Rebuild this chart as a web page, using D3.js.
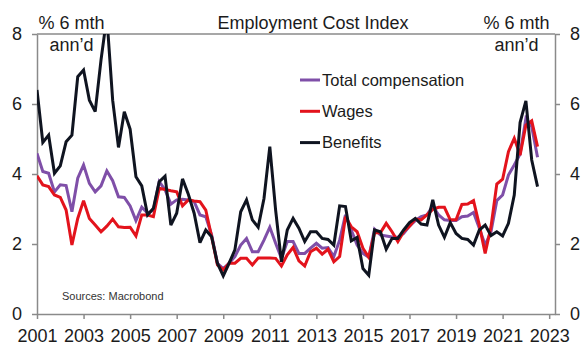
<!DOCTYPE html>
<html>
<head>
<meta charset="utf-8">
<script src="https://cdn.jsdelivr.net/npm/d3@7"></script>
<style>
  html, body { margin: 0; padding: 0; background: #fff; }
  svg { display: block; font-family: "Liberation Sans", Arial, sans-serif; }
</style>
</head>
<body>
<svg id="chart" width="582" height="345"></svg>
<script>
// Quarterly observations, 2001 Q1 to 2022 Q3 (% 6 mth annualised)
const firstYear = 2001;
const totalCompensation = [
  4.59, 4.07, 4.02, 3.49,  3.69, 3.67, 2.92, 3.88,  4.26, 3.73, 3.49, 3.66,
  4.09, 3.81, 3.35, 3.33,  3.09, 2.67, 3.05, 2.88,  2.97, 3.78, 3.55, 3.14,
  3.26, 3.28, 3.26, 3.21,  2.83, 2.78, 2.26, 1.45,  1.30, 1.45, 1.64, 1.97,
  2.16, 1.78, 1.78, 2.11,  2.48, 2.02, 1.59, 2.07,  2.07, 1.73, 1.73, 1.88,
  2.02, 1.88, 1.90, 1.64,  2.11, 2.83, 2.40, 1.97,  1.73, 1.62, 2.42, 2.26,
  2.23, 2.20, 2.19, 2.30,  2.51, 2.67, 2.78, 2.83,  3.09, 2.83, 2.69, 2.67,
  2.67, 2.78, 2.80, 2.90,  2.45, 1.97, 2.35, 3.24,  3.40, 3.97, 4.26, 4.57,
  5.59, 5.35, 4.48
];
const wages = [
  3.95, 3.69, 3.64, 3.40,  3.33, 2.97, 1.97, 2.73,  3.24, 2.73, 2.54, 2.35,
  2.51, 2.71, 2.49, 2.47,  2.48, 2.23, 2.83, 2.83,  2.78, 3.59, 3.56, 3.52,
  3.49, 3.09, 3.26, 3.23,  3.21, 2.97, 2.21, 1.40,  1.26, 1.45, 1.45, 1.59,
  1.59, 1.40, 1.60, 1.60,  1.60, 1.59, 1.37, 1.69,  1.90, 1.52, 1.37, 1.78,
  1.88, 1.71, 1.85, 1.49,  1.64, 2.78, 2.49, 2.35,  1.88, 1.62, 2.32, 2.32,
  2.59, 2.35, 2.07, 2.35,  2.51, 2.71, 2.69, 2.83,  2.99, 3.05, 3.05, 2.69,
  2.69, 3.13, 3.14, 3.24,  2.54, 1.73, 2.49, 3.71,  3.85, 4.64, 5.02, 4.54,
  5.40, 5.52, 4.78
];
const benefits = [
  6.40, 4.90, 5.11, 4.02,  4.23, 4.92, 5.11, 6.78,  6.97, 6.11, 5.78, 7.26,
  8.50, 6.11, 4.76, 5.78,  5.28, 3.92, 3.66, 2.83,  3.02, 3.78, 3.94, 2.54,
  2.88, 3.86, 3.42, 2.88,  2.04, 2.40, 2.21, 1.45,  1.09, 1.45, 1.83, 2.92,
  3.26, 2.69, 2.48, 3.30,  4.78, 2.97, 1.49, 2.40,  2.73, 2.45, 2.07, 2.35,
  2.35, 2.16, 2.13, 1.97,  3.09, 3.07, 2.09, 2.19,  1.30, 1.11, 2.40, 2.35,
  1.85, 2.16, 2.16, 2.40,  2.61, 2.73, 2.57, 2.54,  3.26, 2.54, 2.19, 2.61,
  2.30, 2.16, 2.13, 1.97,  2.40, 2.54, 2.24, 2.35,  2.23, 2.59, 3.40, 5.47,
  6.09, 4.40, 3.64
];
const quarters = totalCompensation.map((_, i) =>
  `${firstYear + Math.floor(i / 4)}Q${(i % 4) + 1}`);
const yearTicks = [2001, 2003, 2005, 2007, 2009, 2011, 2013, 2015, 2017, 2019, 2021, 2023];
const valueTicks = [0, 2, 4, 6, 8];
const seriesNames = ["Total compensation", "Wages", "Benefits"];
const seriesColors = ["#7f4fa8", "#e3131c", "#0f1420"];

const series = [totalCompensation, wages, benefits].map((vals, k) => ({
  name: seriesNames[k],
  color: seriesColors[k],
  points: vals.map((v, i) => ({ q: quarters[i], t: firstYear + i / 4, v }))
}));

const svg = d3.select("#chart");
const plot = { left: 37, right: 555, top: 34, bottom: 314 };

const x = d3.scaleLinear().domain([2001, 2023.25]).range([plot.left, plot.right]);
const y = d3.scaleLinear().domain([0, 8]).range([plot.bottom, plot.top]);

const frameColor = "#8a8a8a";
const textColor = "#1b1b1b";

// Clip region for the series lines
svg.append("defs").append("clipPath").attr("id", "plot-clip")
  .append("rect").attr("x", plot.left).attr("y", plot.top)
  .attr("width", plot.right - plot.left).attr("height", plot.bottom - plot.top);

// Bottom axis with year ticks
const xAxis = svg.append("g").attr("transform", `translate(0,${plot.bottom})`)
  .call(d3.axisBottom(x).tickValues(yearTicks).tickFormat(d3.format("d"))
    .tickSize(5).tickSizeOuter(0).tickPadding(10));
xAxis.select(".domain").attr("stroke", frameColor).attr("stroke-width", 1.5);
xAxis.selectAll(".tick line").attr("stroke", frameColor).attr("stroke-width", 1.5);
xAxis.selectAll(".tick text").attr("fill", textColor).attr("font-size", 18);

// Left and right value axes
const yLeft = svg.append("g").attr("transform", `translate(${plot.left},0)`)
  .call(d3.axisLeft(y).tickValues(valueTicks).tickSize(5).tickSizeOuter(0).tickPadding(10));
const yRight = svg.append("g").attr("transform", `translate(${plot.right},0)`)
  .call(d3.axisRight(y).tickValues(valueTicks).tickSize(5).tickSizeOuter(0).tickPadding(10));
[yLeft, yRight].forEach(g => {
  g.select(".domain").attr("stroke", frameColor).attr("stroke-width", 1.5);
  g.selectAll(".tick line").attr("stroke", frameColor).attr("stroke-width", 1.5);
  g.selectAll(".tick text").attr("fill", textColor).attr("font-size", 18);
});

// Top frame line
svg.append("line").attr("x1", plot.left).attr("x2", plot.right)
  .attr("y1", plot.top).attr("y2", plot.top)
  .attr("stroke", frameColor).attr("stroke-width", 1.5);

// Series lines
const line = d3.line().x(d => x(d.t)).y(d => y(d.v));
svg.append("g").attr("clip-path", "url(#plot-clip)")
  .selectAll("path").data(series).join("path")
  .attr("d", d => line(d.points))
  .attr("fill", "none")
  .attr("stroke", d => d.color)
  .attr("stroke-width", 3)
  .attr("stroke-linejoin", "miter")
  .attr("stroke-miterlimit", 3);

// Title and unit labels
svg.append("text").attr("x", 313).attr("y", 29).attr("text-anchor", "middle")
  .attr("font-size", 18).attr("fill", textColor).text("Employment Cost Index");
[71.5, 516.5].forEach(cx => {
  svg.append("text").attr("x", cx).attr("y", 29).attr("text-anchor", "middle")
    .attr("font-size", 18).attr("fill", textColor).text("% 6 mth");
  svg.append("text").attr("x", cx).attr("y", 51).attr("text-anchor", "middle")
    .attr("font-size", 18).attr("fill", textColor).text("ann\u2019d");
});

// Legend
const legend = svg.append("g").selectAll("g").data(series).join("g")
  .attr("transform", (d, i) => `translate(300,${80 + i * 31.3})`);
legend.append("line").attr("x1", 0).attr("x2", 20).attr("y1", 0).attr("y2", 0)
  .attr("stroke", d => d.color).attr("stroke-width", 3);
legend.append("text").attr("x", 22).attr("y", 0).attr("dy", "0.35em")
  .attr("font-size", 16.5).attr("fill", textColor).text(d => d.name);

// Source note
svg.append("text").attr("x", 62).attr("y", 300).attr("font-size", 11)
  .attr("fill", "#333").text("Sources: Macrobond");
</script>
</body>
</html>
